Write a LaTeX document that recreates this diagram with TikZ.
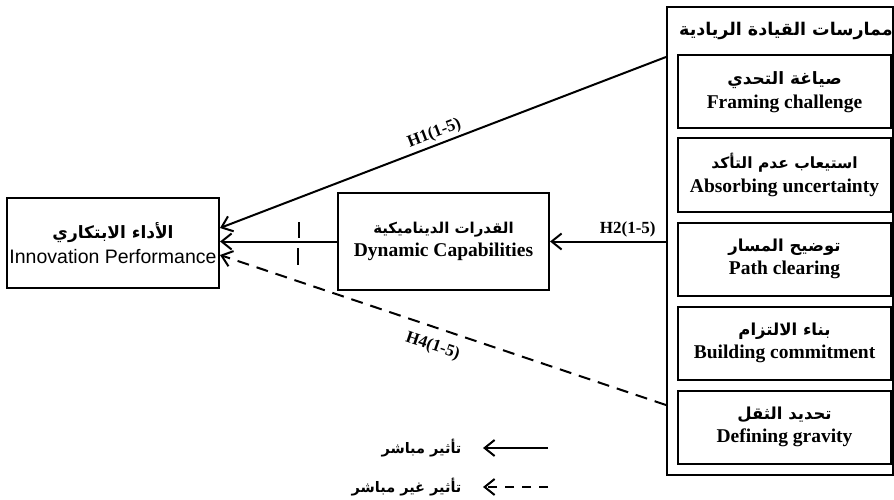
\documentclass[tikz,border=0pt]{standalone}
\usepackage{fontspec}
\setmainfont{Liberation Serif}
\newfontfamily\arabicfont[Script=Arabic]{DejaVu Sans}
\newfontfamily\latinsans{Liberation Sans}
\TeXXeTstate=1
\usetikzlibrary{arrows.meta,positioning}
\tikzset{
  box/.style={draw,line width=2pt,align=center,inner sep=0pt},
  sub/.style={box,minimum width=213pt,minimum height=73pt},
  link/.style={line width=2pt,-{Straight Barb[length=10pt,width=16pt]}},
  indirect/.style={link,dash pattern=on 12pt off 8pt},
  hyp/.style={font=\bfseries\fontsize{17}{17}\selectfont,inner sep=3pt},
  hmark/.style={line width=2.5pt},
}
\newcommand{\AR}[2][15.5]{{\arabicfont\bfseries\fontsize{#1}{20}\selectfont\beginR #2\endR}}
\newcommand{\EN}[1]{{\bfseries\fontsize{19.5}{22}\selectfont #1}}

\begin{document}
\begin{tikzpicture}[x=1pt,y=-1pt]
  \useasboundingbox (0,0) rectangle (894,500);
  % ---- the practices of entrepreneurial leadership ----
  \node[box,minimum width=226pt,minimum height=468pt] (lead) at (780,241) {};
  \node (ttl) at (786,31) {\AR[17.5]{ممارسات القيادة الريادية}};
  \node[sub] (fc) at (784.5,92)  {\AR[17]{صياغة التحدي}\\[5pt]\EN{Framing challenge}};
  \node[sub] (au) at (784.5,175) {\AR{استيعاب عدم التأكد}\\[5pt]\EN{Absorbing uncertainty}};
  \node[sub] (pc) at (784.5,259) {\AR[16.5]{توضيح المسار}\\[5pt]\EN{Path clearing}};
  \node[sub] (bc) at (784.5,343) {\AR[16.5]{بناء الالتزام}\\[5pt]\EN{Building commitment}};
  \node[sub] (dg) at (784.5,427) {\AR[16.5]{تحديد الثقل}\\[5pt]\EN{Defining gravity}};
  % ---- mediator and outcome ----
  \node[box,minimum width=211pt,minimum height=97pt] (dyn) at (443.5,241.5)
    {\AR[15]{القدرات الديناميكية}\\[5pt]\EN{Dynamic Capabilities}};
  \node[box,minimum width=212pt,minimum height=90pt] (perf) at (113,243)
    {\AR[17]{الأداء الابتكاري}\\[5pt]{\latinsans\fontsize{19.5}{22}\selectfont Innovation Performance}};
  % ---- hypotheses ----
  \coordinate (h1s) at (lead.west |- 0,57);
  \coordinate (h1e) at (perf.east |- 0,228);
  \coordinate (h4s) at (lead.west |- 0,405);
  \coordinate (h4e) at (perf.east |- 0,255);
  \draw[link] (h1s) -- node[hyp,sloped,above,pos=0.51] {H1(1-5)} (h1e);
  \draw[link] (lead.west |- dyn.east) -- node[hyp,above,pos=0.33] {H2(1-5)} (dyn.east);
  \draw[link] (dyn.west) -- (perf.east |- dyn.west);
  \draw[indirect] (h4s) -- node[hyp,sloped,below=7pt,pos=0.51] {H4(1-5)} (h4e);
  \draw[hmark] (299,222) -- (299,238);
  \draw[hmark,line width=2pt] (298,248) -- (298,265);
  % ---- legend ----
  \coordinate (ds) at (548,448);
  \coordinate (de) at (483,448);
  \coordinate (is) at (548,487);
  \coordinate (ie) at (483,487);
  \draw[link] (ds) -- (de);
  \draw[indirect,dash pattern=on 9pt off 8pt] (is) -- (ie);
  \node[left=18pt of de] (dl) {\AR[14.5]{تأثير مباشر}};
  \node[left=18pt of ie] (il) {\AR[14.5]{تأثير غير مباشر}};
\end{tikzpicture}
\end{document}
